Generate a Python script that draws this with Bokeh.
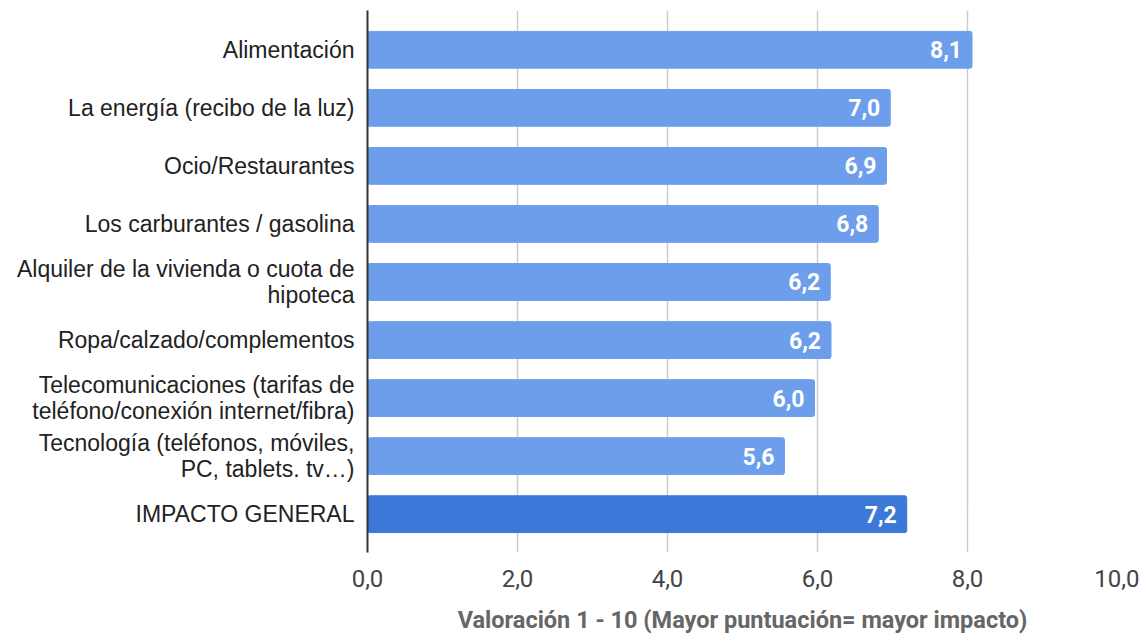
from bokeh.plotting import figure
from bokeh.models import ColumnDataSource, FixedTicker, Range1d
from bokeh.core.properties import value
from bokeh.embed import file_html
from bokeh.resources import INLINE

categories = [
    "Alimentación",
    "La energía (recibo de la luz)",
    "Ocio/Restaurantes",
    "Los carburantes / gasolina",
    "Alquiler de la vivienda o cuota de\nhipoteca",
    "Ropa/calzado/complementos",
    "Telecomunicaciones (tarifas de\nteléfono/conexión internet/fibra)",
    "Tecnología (teléfonos, móviles,\nPC, tablets. tv…)",
    "IMPACTO GENERAL",
]
values = [8.06, 6.97, 6.92, 6.81, 6.17, 6.18, 5.96, 5.56, 7.19]
bar_colors = ["#6d9eeb"] * 8 + ["#3c78d8"]
x_ticks = [0, 2, 4, 6, 8, 10]
x_title = "Valoración 1 - 10 (Mayor puntuación= mayor impacto)"

n = len(categories)
ypos = [n - 1 - i for i in range(n)]
labels = [f"{v:.1f}".replace(".", ",") for v in values]

src = ColumnDataSource(dict(y=ypos, v=values, c=bar_colors, lab=labels))

p = figure(width=1139, height=636, output_backend="svg", toolbar_location=None,
           x_range=Range1d(0, 10), y_range=Range1d(-0.66, n - 1 + 0.677),
           min_border_left=367, min_border_right=22, min_border_top=10,
           min_border_bottom=82)
p.outline_line_color = None
p.background_fill_color = "white"
p.border_fill_color = "white"

p.hbar(y="y", right="v", left=0, height=0.634, color="c", source=src,
       border_radius=2)
p.text(x="v", y="y", text="lab", source=src, x_offset=-10,
       text_align="right", text_baseline="middle", text_color="white",
       text_font=value("Roboto"), text_font_style="bold", text_font_size="23px")

# x axis
p.xaxis.ticker = FixedTicker(ticks=x_ticks)
p.xaxis.major_label_overrides = {t: f"{t:.1f}".replace(".", ",") for t in x_ticks}
p.xaxis.axis_line_color = None
p.xaxis.major_tick_line_color = None
p.xaxis.minor_tick_line_color = None
p.xaxis.major_label_text_font = "Roboto"
p.xaxis.major_label_text_font_size = "24px"
p.xaxis.major_label_text_color = "#444444"
p.xaxis.major_label_standoff = 11
p.xaxis.axis_label = x_title
p.xaxis.axis_label_text_font = "Roboto"
p.xaxis.axis_label_text_font_style = "bold"
p.xaxis.axis_label_text_font_size = "23.5px"
p.xaxis.axis_label_text_color = "#666666"
p.xaxis.axis_label_standoff = 16

# y axis
p.yaxis.ticker = FixedTicker(ticks=ypos)
p.yaxis.major_label_overrides = {y: c for y, c in zip(ypos, categories)}
p.yaxis.axis_line_color = "#333333"
p.yaxis.axis_line_width = 2
p.yaxis.major_tick_line_color = None
p.yaxis.minor_tick_line_color = None
p.yaxis.major_label_text_font = "Liberation Sans"
p.yaxis.major_label_text_font_size = "23px"
p.yaxis.major_label_text_color = "#222222"
p.yaxis.major_label_text_line_height = 1.0
p.yaxis.major_label_standoff = 7

p.xgrid.grid_line_color = "#cccccc"
p.xgrid.grid_line_width = 1.5
p.ygrid.grid_line_color = None

open("out.html", "w").write(file_html(p, INLINE))
